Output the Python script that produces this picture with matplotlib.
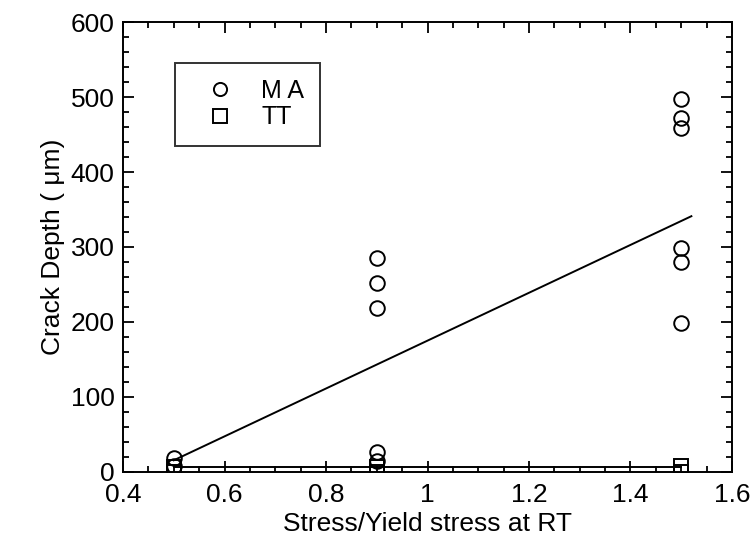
import matplotlib
matplotlib.use("Agg")
import matplotlib.pyplot as plt
from matplotlib.ticker import MultipleLocator

plt.rcParams['font.family'] = ['Liberation Sans', 'DejaVu Sans']

# Data
ma_x = [0.5, 0.5, 0.9, 0.9, 0.9, 0.9, 0.9, 1.5, 1.5, 1.5, 1.5, 1.5, 1.5]
ma_y = [18, 8, 285, 252, 218, 26, 14, 497, 472, 459, 298, 280, 198]
tt_x = [0.5, 0.5, 0.9, 0.9, 1.5, 1.5]
tt_y = [6, 0, 6, 0, 8, 0]
fit_ma_x = [0.5, 1.52]
fit_ma_y = [15, 341]
fit_tt_x = [0.5, 1.5]
fit_tt_y = [6, 6]
x_ticks = [0.4, 0.6, 0.8, 1.0, 1.2, 1.4, 1.6]
x_tick_labels = ['0.4', '0.6', '0.8', '1', '1.2', '1.4', '1.6']
y_ticks = [0, 100, 200, 300, 400, 500, 600]

fig = plt.figure(figsize=(7.55, 5.5), dpi=100)
ax = fig.add_axes([0.163, 0.1427, 0.8065, 0.8168])

ax.plot(fit_ma_x, fit_ma_y, color='black', lw=1.4)
ax.plot(fit_tt_x, fit_tt_y, color='black', lw=1.4)
ax.plot(ma_x, ma_y, linestyle='none', marker='o', markersize=10.5,
        markerfacecolor='none', markeredgecolor='black', markeredgewidth=1.4, label='M A')
ax.plot(tt_x, tt_y, linestyle='none', marker='s', markersize=10.5,
        markerfacecolor='none', markeredgecolor='black', markeredgewidth=1.4, label='TT')

ax.set_xlim(0.4, 1.6)
ax.set_ylim(0, 600)
ax.set_xticks(x_ticks)
ax.set_xticklabels(x_tick_labels)
ax.set_yticks(y_ticks)
ax.xaxis.set_minor_locator(MultipleLocator(0.05))
ax.yaxis.set_minor_locator(MultipleLocator(20))
ax.tick_params(which='both', direction='in', top=True, right=True, width=1.3, labelsize=19)
ax.tick_params(which='major', length=8)
ax.tick_params(which='minor', length=4)
ax.tick_params(axis='x', which='major', pad=8)
ax.tick_params(axis='y', which='major', pad=6)
for s in ax.spines.values():
    s.set_linewidth(1.4)

ax.set_xlabel('Stress/Yield stress at RT', fontsize=19, labelpad=4)
ax.set_ylabel('Crack Depth ( \u03bcm)', fontsize=19, labelpad=4)

leg = ax.legend(loc='upper left', bbox_to_anchor=(0.085, 0.91), borderaxespad=0,
                fontsize=18, frameon=True, fancybox=False, edgecolor='black',
                borderpad=0.65, handletextpad=0.5, labelspacing=0.1,
                handlelength=2.3, markerscale=0.9)
leg.get_frame().set_linewidth(1.4)

fig.savefig('out.png', dpi=100)
